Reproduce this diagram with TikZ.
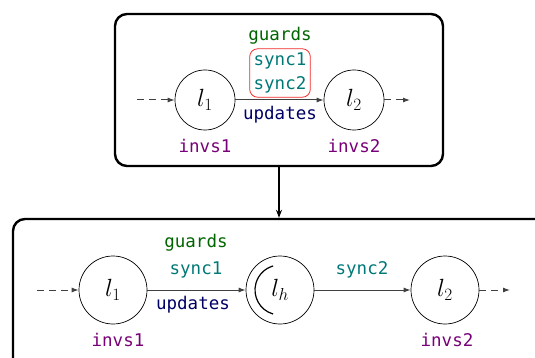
\documentclass[tikz,border=0pt]{standalone}
\usepackage{fontspec}
\setmonofont{DejaVu Sans Mono}
\usetikzlibrary{arrows.meta}
\definecolor{guardcol}{RGB}{0,100,0}
\definecolor{synccol}{RGB}{0,120,120}
\definecolor{updcol}{RGB}{0,0,100}
\definecolor{invcol}{RGB}{120,0,120}
\definecolor{boxred}{RGB}{240,40,40}
\tikzset{
  loc/.style={draw, circle, line width=0.7pt, inner sep=0pt},
  smallloc/.style={loc, minimum size=60pt},
  bigloc/.style={loc, minimum size=68pt},
  mathlbl/.style={font=\fontsize{24}{28}\selectfont},
  tt/.style={font=\ttfamily\fontsize{17.5}{20}\selectfont, inner sep=1pt},
  guard/.style={tt, text=guardcol},
  sync/.style={tt, text=synccol},
  upd/.style={tt, text=updcol},
  inv/.style={tt, text=invcol},
  frame/.style={draw, line width=2.4pt, rounded corners=12pt},
  trans/.style={draw=black!75, line width=1pt, -{Latex[length=7pt,width=5pt]}},
  entry/.style={trans, dash pattern=on 7pt off 5pt},
  refine/.style={draw, line width=1.1pt, -{Stealth[length=8pt,width=6pt]}}
}
\begin{document}
\begin{tikzpicture}[x=1pt, y=-1pt]
\useasboundingbox (0,0) rectangle (535,358);
\clip (0,0) rectangle (535,358);

% --- upper automaton ---
\node[frame, minimum width=328pt, minimum height=152pt] (top) at (279,90) {};
\node[smallloc, mathlbl] (a1) at (205,100) {$l_1$};
\node[smallloc, mathlbl] (a2) at (354,100) {$l_2$};
\coordinate (ain) at (137,100);
\coordinate (aout) at (410,100);
\draw[entry] (ain) -- (a1);
\draw[entry] (a2) -- (aout);
\draw[trans] (a1) -- (a2);
\node[guard] (ag) at (280,36) {guards};
\node[sync, draw=boxred, line width=0.8pt, rounded corners=8pt, align=center,
      inner xsep=4pt, inner ysep=4pt] (as) at (280,73) {sync1\\[4pt]sync2};
\node[upd] (au) at (280,115) {updates};
\node[inv] (ai1) at (205,146) {invs1};
\node[inv] (ai2) at (354,146) {invs2};

% --- refined automaton ---
\node[frame, minimum width=540pt, minimum height=170pt] (bot) at (283,304) {};
\draw[refine] (top.south) -- (top.south |- bot.north);

\node[bigloc, mathlbl] (b1) at (113,290) {$l_1$};
\node[bigloc, mathlbl] (bh) at (280,290) {$l_h$};
\node[bigloc, mathlbl] (b2) at (445,290) {$l_2$};
\draw[line width=1.2pt] ([shift={(106:25)}]bh.center) arc[start angle=106, end angle=254, radius=25];
\coordinate (bin) at (37,290);
\coordinate (bout) at (510,290);
\draw[entry] (bin) -- (b1);
\draw[entry] (b2) -- (bout);
\draw[trans] (b1) -- (bh);
\draw[trans] (bh) -- (b2);
\node[guard] (bg) at (196,243) {guards};
\node[sync] (bs1) at (196,270) {sync1};
\node[upd] (bu) at (193,305) {updates};
\node[sync] (bs2) at (362,270) {sync2};
\node[inv] (bi1) at (118,340) {invs1};
\node[inv] (bi2) at (447,340) {invs2};
\end{tikzpicture}
\end{document}
